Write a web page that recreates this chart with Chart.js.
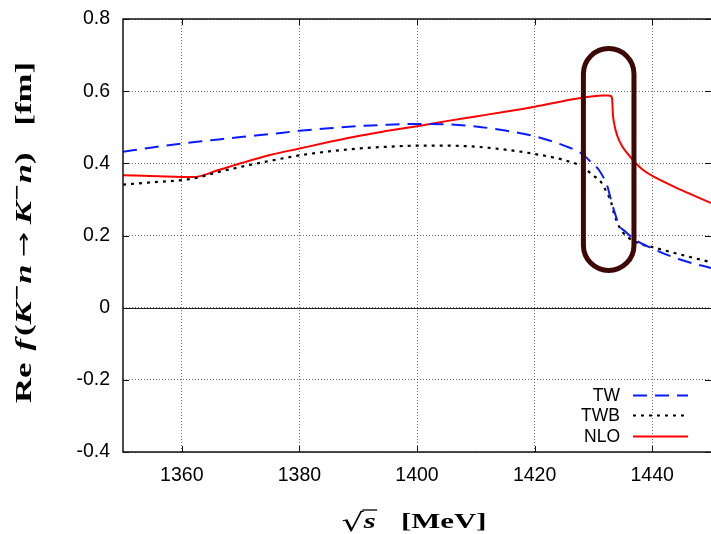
<!DOCTYPE html>
<html>
<head>
<meta charset="utf-8">
<script src="https://cdn.jsdelivr.net/npm/chart.js@4/dist/chart.umd.min.js"></script>
<style>
  html, body { margin: 0; padding: 0; background: #fff; }
  #wrap { width: 711px; height: 534px; position: relative; }
</style>
</head>
<body>
<div id="wrap"><canvas id="c" width="711" height="534"></canvas></div>
<script>
// ---------------- data ----------------
const xTicks = [1360, 1380, 1400, 1420, 1440];
const yTicks = [-0.4, -0.2, 0, 0.2, 0.4, 0.6, 0.8];

const twE = [1350, 1355, 1360, 1365, 1370, 1375, 1380, 1385, 1390, 1395, 1400, 1405, 1410, 1415, 1420, 1425, 1428.2, 1429.3, 1431.0, 1432.4, 1433.0, 1433.5, 1434.4, 1435.5, 1437.2, 1440, 1444.6, 1450];
const twV = [0.432, 0.444, 0.455, 0.464, 0.473, 0.481, 0.490, 0.497, 0.503, 0.507, 0.509, 0.508, 0.502, 0.491, 0.475, 0.449, 0.425, 0.408, 0.380, 0.335, 0.298, 0.270, 0.228, 0.210, 0.187, 0.164, 0.134, 0.110];

const twbE = [1350, 1354.6, 1362, 1366, 1370, 1374.1, 1380, 1385, 1390, 1395, 1400, 1405, 1410, 1415, 1420, 1425, 1428.2, 1429.9, 1431.3, 1432.1, 1433.0, 1433.5, 1434.4, 1435.5, 1437.8, 1440, 1444.6, 1450];
const twbV = [0.341, 0.347, 0.358, 0.375, 0.390, 0.404, 0.422, 0.433, 0.441, 0.446, 0.449, 0.449, 0.446, 0.438, 0.426, 0.409, 0.390, 0.367, 0.348, 0.325, 0.293, 0.261, 0.224, 0.200, 0.178, 0.168, 0.148, 0.126];

const nloE = [1350, 1356, 1362, 1366, 1370, 1375, 1380, 1385, 1390, 1395, 1400, 1405, 1410, 1415, 1420, 1425, 1428, 1430, 1431.5, 1432.5, 1433.0, 1433.2, 1433.3, 1433.53, 1434.09, 1434.94, 1436.07, 1436.93, 1438.34, 1440.03, 1445.1, 1450];
const nloV = [0.367, 0.364, 0.362, 0.380, 0.400, 0.423, 0.441, 0.459, 0.476, 0.490, 0.503, 0.517, 0.530, 0.543, 0.557, 0.573, 0.582, 0.586, 0.588, 0.588, 0.586, 0.575, 0.539, 0.510, 0.475, 0.446, 0.422, 0.405, 0.383, 0.365, 0.325, 0.290];

const seriesNames = ['TW', 'TWB', 'NLO'];

// highlight (rounded box) drawn in data units
const boxE = [1428.3, 1436.9];
const boxV = [0.103, 0.718];

// ---------------- helpers ----------------
function pts(E, V) { return E.map((e, i) => ({ x: e, y: V[i] })); }

const SANS = '"Liberation Sans", Arial, sans-serif';
const LEGEND_FONT = '17.5px ' + SANS;

const furniture = {
  id: 'furniture',
  beforeDatasetsDraw(chart) {
    const { ctx, chartArea: a, scales: { y } } = chart;
    ctx.save();
    const y0 = Math.round(y.getPixelForValue(0)) + 0.5;
    ctx.strokeStyle = '#222';
    ctx.lineWidth = 1;
    ctx.beginPath(); ctx.moveTo(a.left, y0); ctx.lineTo(a.right, y0); ctx.stroke();
    ctx.restore();
  },
  afterDatasetsDraw(chart) {
    const { ctx, chartArea: a, scales: { x, y } } = chart;
    ctx.save();
    // highlight box
    const xl = x.getPixelForValue(boxE[0]), xr = x.getPixelForValue(boxE[1]);
    const yt = y.getPixelForValue(boxV[1]), yb = y.getPixelForValue(boxV[0]);
    const r = (xr - xl) / 2;
    ctx.strokeStyle = '#3d0806';
    ctx.lineWidth = 5;
    ctx.beginPath();
    ctx.moveTo(xl, yt + r);
    ctx.arc(xl + r, yt + r, r, Math.PI, 0);
    ctx.lineTo(xr, yb - r);
    ctx.arc(xl + r, yb - r, r, 0, Math.PI);
    ctx.closePath();
    ctx.stroke();

    // frame (left, top, bottom)
    ctx.strokeStyle = '#111';
    ctx.lineWidth = 1.5;
    ctx.beginPath();
    ctx.moveTo(a.right + 2, a.top); ctx.lineTo(a.left, a.top); ctx.lineTo(a.left, a.bottom); ctx.lineTo(a.right + 2, a.bottom);
    ctx.stroke();
    // inward ticks
    ctx.lineWidth = 1;
    const tl = 6;
    ctx.beginPath();
    xTicks.forEach(v => {
      const px = Math.round(x.getPixelForValue(v)) + 0.5;
      ctx.moveTo(px, a.bottom); ctx.lineTo(px, a.bottom - tl);
      ctx.moveTo(px, a.top); ctx.lineTo(px, a.top + tl);
    });
    yTicks.forEach(v => {
      const py = Math.round(y.getPixelForValue(v)) + 0.5;
      ctx.moveTo(a.left, py); ctx.lineTo(a.left + tl, py);
      ctx.moveTo(a.right, py); ctx.lineTo(a.right - tl, py);
    });
    ctx.stroke();

    // legend (text right-aligned, sample to the right)
    const ds = chart.data.datasets;
    const rowY = [395, 415, 436];
    ctx.font = LEGEND_FONT;
    ctx.fillStyle = '#000';
    ctx.textAlign = 'right';
    ctx.textBaseline = 'middle';
    ds.forEach((d, i) => {
      ctx.fillText(d.label, 620, rowY[i] + 1);
      ctx.save();
      ctx.strokeStyle = d.borderColor;
      ctx.lineWidth = d.borderWidth;
      ctx.setLineDash(d.borderDash || []);
      ctx.beginPath(); ctx.moveTo(633, rowY[i] + 0.5); ctx.lineTo(688, rowY[i] + 0.5); ctx.stroke();
      ctx.restore();
    });

    // axis titles (rich text)
    drawRich(ctx, yTitle, 31, 232.5, true, 341, 1.0);
    drawRich(ctx, xTitle, 414, 528, false, 145, 1.0);
    ctx.restore();
  }
};

const SER = '"Liberation Serif", "Times New Roman", serif';
const fB = `bold 23px ${SER}`;
const fBI = `italic bold 23px ${SER}`;
const fSup = `bold 14px "DejaVu Sans", sans-serif`;
const fArrow = `20px "DejaVu Sans", sans-serif`;
const yTitle = [
  { t: 'Re', f: fB }, { gap: 8 }, { t: 'f', f: fBI }, { gap: 2 }, { t: '(', f: fB }, { t: 'K', f: fBI },
  { t: '−', f: fSup, dy: -10 }, { t: 'n', f: fBI }, { gap: 5 }, { t: '→', f: fArrow, dy: -1 }, { gap: 5 }, { t: 'K', f: fBI },
  { t: '−', f: fSup, dy: -10 }, { t: 'n', f: fBI }, { t: ')', f: fB }, { gap: 18 }, { t: '[fm]', f: fB }
];
const xTitle = [
  { t: '√', f: `25px "DejaVu Serif", serif`, dy: 3 }, { t: 's', f: `italic bold 22px ${SER}`, over: true }, { gap: 18 }, { t: '[MeV]', f: `bold 22px ${SER}` }
];

function drawRich(ctx, segs, cx, cy, rot, targetW, sy) {
  ctx.save();
  ctx.translate(cx, cy);
  if (rot) ctx.rotate(-Math.PI / 2);
  let total = 0;
  segs.forEach(s => {
    if (s.gap) { s.w = s.gap; } else { ctx.font = s.f; s.w = ctx.measureText(s.t).width; }
    total += s.w;
  });
  const sx = targetW / total;
  ctx.scale(sx, sy);
  let xx = -total / 2;
  ctx.fillStyle = '#000';
  ctx.textAlign = 'left';
  ctx.textBaseline = 'alphabetic';
  segs.forEach(s => {
    if (!s.gap) {
      ctx.font = s.f;
      ctx.fillText(s.t, xx, s.dy || 0);
      if (s.over) {
        ctx.strokeStyle = '#000'; ctx.lineWidth = 1.3;
        ctx.beginPath(); ctx.moveTo(xx - 1, -18); ctx.lineTo(xx + s.w + 1, -18); ctx.stroke();
      }
    }
    xx += s.w;
  });
  ctx.restore();
}

new Chart(document.getElementById('c'), {
  type: 'line',
  data: {
    datasets: [
      { label: seriesNames[0], data: pts(twE, twV), borderColor: '#0a1cff', borderWidth: 2, borderDash: [14, 8] },
      { label: seriesNames[1], data: pts(twbE, twbV), borderColor: '#000000', borderWidth: 2.2, borderDash: [3, 5] },
      { label: seriesNames[2], data: pts(nloE, nloV), borderColor: '#ff0000', borderWidth: 2 }
    ]
  },
  options: {
    responsive: false,
    animation: false,
    devicePixelRatio: 1,
    layout: { padding: { top: 19, left: 0, right: 0, bottom: 0 } },
    elements: { point: { radius: 0 }, line: { cubicInterpolationMode: 'monotone', fill: false } },
    plugins: { legend: { display: false }, tooltip: { enabled: false }, title: { display: false } },
    scales: {
      x: {
        type: 'linear', min: 1350, max: 1450,
        afterBuildTicks: s => { s.ticks = xTicks.map(v => ({ value: v })); },
        afterFit: s => { s.height = 82; s.paddingLeft = 0; s.paddingRight = 0; },
        grid: { color: 'rgba(0,0,0,0.55)', lineWidth: 1, drawTicks: false },
        border: { display: false, dash: [1, 2] },
        ticks: { font: { family: SANS, size: 19.5 }, color: '#000', padding: 12, maxRotation: 0, callback: v => String(v) }
      },
      y: {
        type: 'linear', min: -0.4, max: 0.8,
        afterBuildTicks: s => { s.ticks = yTicks.map(v => ({ value: v })); },
        afterFit: s => { s.width = 123; s.paddingTop = 0; s.paddingBottom = 0; },
        grid: { color: 'rgba(0,0,0,0.55)', lineWidth: 1, drawTicks: false },
        border: { display: false, dash: [1, 2] },
        ticks: { font: { family: SANS, size: 19.5 }, color: '#000', padding: 13, callback: v => (Math.abs(v) < 1e-9 ? '0' : v.toFixed(1)) }
      }
    }
  },
  plugins: [furniture]
});
</script>
</body>
</html>
